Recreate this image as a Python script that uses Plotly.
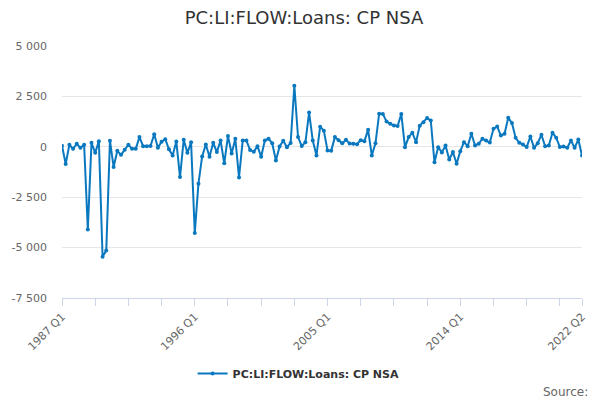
import plotly.graph_objects as go

years = list(range(1987, 2023))
quarters = [f"{y} Q{q}" for y in years for q in range(1, 5)]
quarters = quarters[:quarters.index("2022 Q2") + 1]

values = [
    50, -850, 100, -100, 150, -50, 100, -4100, 200, -300,
    280, -5450, -5150, 300, -1000, -200, -400, -150, 100, -100,
    -100, 480, 30, 30, 40, 620, -50, 250, 380, -120,
    -430, 260, -1500, 350, -300, 220, -4270, -1830, -480, 115,
    -490, 200, -260, 310, -820, 530, -330, 400, -1520, 310,
    310, -160, -240, 30, -490, 310, 400, 180, -680, 20,
    300, -20, 190, 3030, 480, 40, 220, 1700, 310, -430,
    1000, 800, -180, -190, 480, 330, 170, 350, 160, 150,
    130, 330, 280, 840, -430, 170, 1640, 1630, 1250, 1140,
    1060, 1030, 1630, -20, 480, 700, 230, 1050, 1220, 1430,
    1300, -770, -20, -280, 66, -630, -260, -840, -215, 230,
    30, 650, 66, 150, 400, 315, 210, 890, 1010, 560,
    650, 1440, 1180, 450, 200, 115, -15, 510, -50, 180,
    600, 30, 66, 700, 450, -15, 15, -50, 310, -50,
    360, -430,
]

series_name = "PC:LI:FLOW:Loans: CP NSA"
labelled = ["1987 Q1", "1996 Q1", "2005 Q1", "2014 Q1", "2022 Q2"]
tick_idx = list(range(0, len(quarters), 9)) + [len(quarters) - 1]
tickvals = [quarters[i] for i in tick_idx]
ticktext = [q if q in labelled else "" for q in tickvals]
ytickvals = [5000, 2500, 0, -2500, -5000, -7500]
yticktext = ["5 000", "2 500", "0", "-2 500", "-5 000", "-7 500"]

color = "#0a78bf"
fig = go.Figure()
fig.add_trace(go.Scatter(
    x=quarters, y=values, mode="lines+markers", name=series_name,
    line=dict(color=color, width=2),
    marker=dict(color=color, size=4),
))

# page body has an 8px default margin, so the figure is sized 592x392
fig.update_layout(
    width=592, height=392,
    margin=dict(l=54, r=18, t=38, b=102, autoexpand=False),
    paper_bgcolor="white", plot_bgcolor="white",
    font=dict(family="DejaVu Sans", color="#666666", size=11),
    title=dict(text=series_name, x=0.5, xanchor="center", y=1 - 10 / 392, yanchor="middle",
               yref="container", xref="container",
               font=dict(size=18, color="#333333", family="DejaVu Sans")),
    showlegend=True,
    legend=dict(orientation="h", x=0.455, xanchor="center", y=-0.30, yanchor="middle",
                font=dict(size=11, color="#333333", family="DejaVu Sans", weight="bold")),
    xaxis=dict(
        type="category", range=[0, len(quarters) - 1], automargin=False,
        tickmode="array", tickvals=tickvals, ticktext=ticktext,
        tickangle=-45, ticks="outside", ticklen=7, tickcolor="#ccd6eb",
        showline=True, linecolor="#ccd6eb", linewidth=1,
        showgrid=False, zeroline=False,
        tickfont=dict(size=11, color="#666666"),
    ),
    yaxis=dict(
        range=[-7500, 5000], tickmode="array", tickvals=ytickvals, ticktext=yticktext,
        automargin=False,
        showgrid=True, gridcolor="#e6e6e6", gridwidth=1, zeroline=False,
        showline=False, ticks="", ticklabelstandoff=14,
        tickfont=dict(size=11, color="#666666"),
    ),
    annotations=[dict(text="Source:", xref="paper", yref="paper", x=1.0, y=-0.337,
                      xanchor="right", yanchor="top", showarrow=False,
                      font=dict(size=12, color="#666666"), xshift=8)],
)

fig.write_html("out.html")
